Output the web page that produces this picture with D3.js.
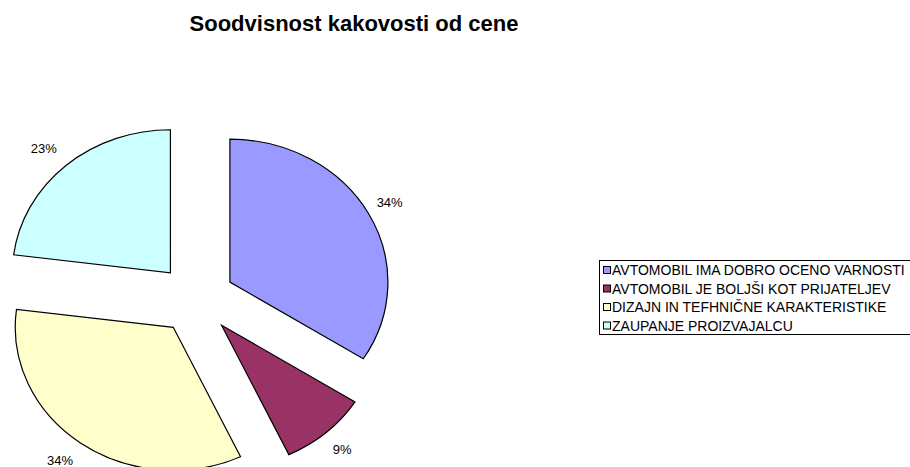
<!DOCTYPE html>
<html>
<head>
<meta charset="utf-8">
<script src="https://cdn.jsdelivr.net/npm/d3@7"></script>
<style>
  html, body { margin: 0; padding: 0; background: #fff; }
  svg { display: block; font-family: Arial, "Liberation Sans", sans-serif; }
</style>
</head>
<body>
<svg id="chart" width="910" height="467"></svg>
<script>
// Survey answers: share of respondents per reason
const categories = [
  "AVTOMOBIL IMA DOBRO OCENO VARNOSTI",
  "AVTOMOBIL JE BOLJŠI KOT PRIJATELJEV",
  "DIZAJN IN TEFHNIČNE KARAKTERISTIKE",
  "ZAUPANJE PROIZVAJALCU"
];
const values = [34, 9, 34, 23];
const valueLabels = ["34%", "9%", "34%", "23%"];
const colors = ["#9999FF", "#993366", "#FFFFCC", "#CCFFFF"];
const titleText = "Soodvisnost kakovosti od cene";

const svg = d3.select("#chart");

// Pie geometry (slightly stretched horizontally, exploded slices)
const cx = 196, cy = 299;
const r = 143;          // vertical radius
const sx = 1.105;       // horizontal stretch
const explode = 35;
const labelR = 165;

svg.append("text")
  .attr("x", 354)
  .attr("y", 31)
  .attr("text-anchor", "middle")
  .attr("font-size", 22)
  .attr("font-weight", "bold")
  .attr("fill", "#000")
  .text(titleText);

const pie = d3.pie().sort(null).value(d => d);
const arcs = pie(values);
const arc = d3.arc().innerRadius(0).outerRadius(r);
const mid = d => (d.startAngle + d.endAngle) / 2;

const g = svg.append("g")
  .attr("transform", `translate(${cx},${cy}) scale(${sx},1)`);

g.selectAll("path.slice")
  .data(arcs)
  .join("path")
  .attr("class", "slice")
  .attr("d", arc)
  .attr("transform", d => `translate(${Math.sin(mid(d)) * explode},${-Math.cos(mid(d)) * explode})`)
  .attr("fill", (d, i) => colors[i])
  .attr("stroke", "#000")
  .attr("stroke-width", 1.2)
  .attr("vector-effect", "non-scaling-stroke");

// Percentage labels outside each slice; left-side labels sit a bit further out
svg.selectAll("text.pct")
  .data(arcs)
  .join("text")
  .attr("class", "pct")
  .attr("x", d => {
    const s = Math.sin(mid(d));
    return cx + sx * (explode + labelR) * s + (s < 0 ? -6 : 0);
  })
  .attr("y", d => cy - (explode + labelR) * Math.cos(mid(d)))
  .attr("text-anchor", "middle")
  .attr("dominant-baseline", "central")
  .attr("font-size", 13)
  .attr("fill", "#000")
  .text((d, i) => valueLabels[i]);

// Legend
const legend = svg.append("g");
legend.append("rect")
  .attr("x", 599.5).attr("y", 260.5)
  .attr("width", 320).attr("height", 74)
  .attr("fill", "#fff")
  .attr("stroke", "#000")
  .attr("stroke-width", 1);

const rowY = d3.scalePoint().domain(categories).range([270, 325.5]);

const rows = legend.selectAll("g.row")
  .data(categories)
  .join("g")
  .attr("class", "row")
  .attr("transform", d => `translate(0,${rowY(d)})`);

rows.append("rect")
  .attr("x", 603.5).attr("y", -3.5)
  .attr("width", 7).attr("height", 7)
  .attr("fill", (d, i) => colors[i])
  .attr("stroke", "#000")
  .attr("stroke-width", 1);

rows.append("text")
  .attr("x", 612)
  .attr("y", 0)
  .attr("dominant-baseline", "central")
  .attr("font-size", 14)
  .attr("fill", "#000")
  .text(d => d);
</script>
</body>
</html>
